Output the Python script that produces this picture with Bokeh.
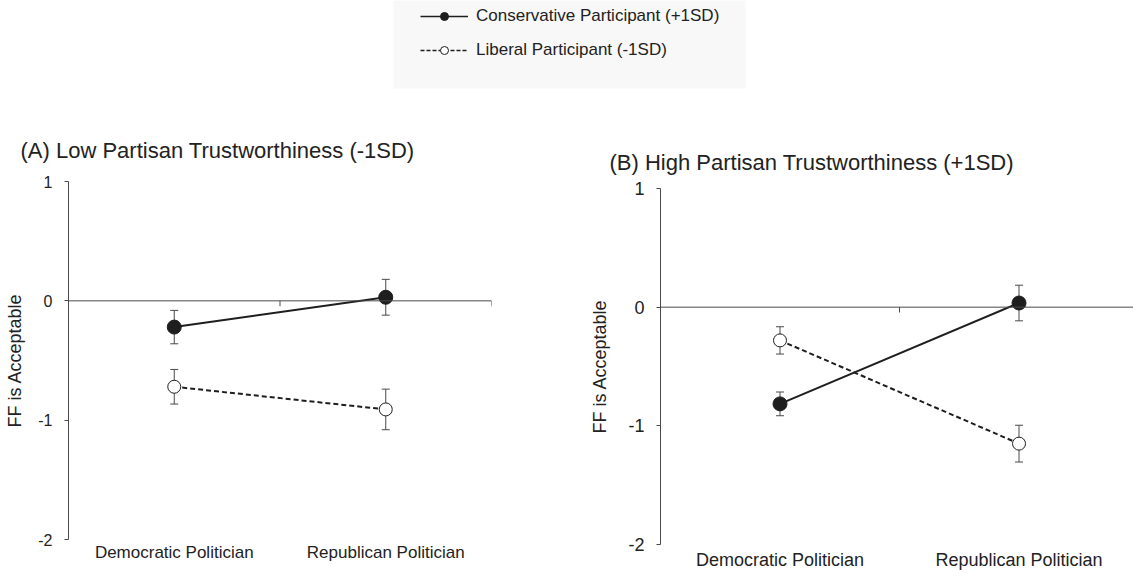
from bokeh.plotting import figure
from bokeh.models import (Range1d, FixedTicker, Span, Whisker, TeeHead, ColumnDataSource,
                          Legend, LegendItem, BoxAnnotation, LinearAxis, Spacer)
from bokeh.layouts import column, row
from bokeh.embed import file_html
from bokeh.resources import INLINE

# ---------------- data ----------------
categories = ["Democratic Politician", "Republican Politician"]
series_names = ["Conservative Participant (+1SD)", "Liberal Participant (-1SD)"]

a_conservative = [-0.22, 0.03]
a_conservative_err = [0.14, 0.15]
a_liberal = [-0.72, -0.91]
a_liberal_err = [0.145, 0.17]

b_conservative = [-0.815, 0.035]
b_conservative_err = [0.10, 0.15]
b_liberal = [-0.28, -1.15]
b_liberal_err = [0.115, 0.155]

y_ticks = [-2, -1, 0, 1]
y_tick_labels = ["-2", "-1", "0", "1"]
titles = ["(A) Low Partisan Trustworthiness (-1SD)", "(B) High Partisan Trustworthiness (+1SD)"]
y_label = "FF is Acceptable"

FONT = "Liberation Sans"
TXT = "#222222"
AX = "#4a4a4a"
INK = "#1e1e1e"

xs = [i + 0.5 for i in range(len(categories))]
bounds = [i + 1 for i in range(len(categories))]


def panel(title, cons, cons_err, lib, lib_err, width, height, x_end,
          b_left, b_right, b_top, b_bottom, tick_fs, cat_fs, title_standoff,
          title_offset, lab_standoff, tick_len, cat_standoff):
    p = figure(width=width, height=height, output_backend="svg", toolbar_location=None,
               x_range=Range1d(0, x_end), y_range=Range1d(-2, 1),
               min_border_left=b_left, min_border_right=b_right,
               min_border_top=b_top, min_border_bottom=b_bottom,
               x_axis_location=None, y_axis_location=None)
    p.outline_line_color = None
    p.xgrid.visible = False
    p.ygrid.visible = False

    p.title.text = title
    p.title.text_font = FONT
    p.title.text_font_size = "22px"
    p.title.text_font_style = "normal"
    p.title.text_color = TXT
    p.title.align = "left"
    p.title.offset = title_offset
    p.title.standoff = title_standoff

    yax = LinearAxis(ticker=FixedTicker(ticks=y_ticks))
    yax.major_label_overrides = {t: s for t, s in zip(y_ticks, y_tick_labels)}
    yax.axis_line_color = AX
    yax.major_tick_line_color = AX
    yax.major_tick_out = 4
    yax.major_tick_in = 0
    yax.minor_tick_line_color = None
    yax.major_label_text_font = FONT
    yax.major_label_text_font_size = tick_fs
    yax.major_label_text_color = TXT
    yax.major_label_standoff = 12
    yax.axis_label = y_label
    yax.axis_label_text_font = FONT
    yax.axis_label_text_font_size = "18px"
    yax.axis_label_text_font_style = "normal"
    yax.axis_label_text_color = TXT
    yax.axis_label_standoff = lab_standoff
    p.add_layout(yax, "left")

    xax = LinearAxis(ticker=FixedTicker(ticks=xs))
    xax.major_label_overrides = {x: c for x, c in zip(xs, categories)}
    xax.axis_line_color = None
    xax.major_tick_line_color = None
    xax.major_tick_out = 0
    xax.major_tick_in = 0
    xax.minor_tick_line_color = None
    xax.major_label_text_font = FONT
    xax.major_label_text_font_size = cat_fs
    xax.major_label_text_color = TXT
    xax.major_label_standoff = cat_standoff
    p.add_layout(xax, "below")

    # zero line with category boundary ticks
    p.add_layout(Span(location=0, dimension="width", line_color=AX, line_width=1))
    p.segment(x0=bounds, x1=bounds, y0=[0] * len(bounds), y1=[-tick_len] * len(bounds),
              line_color=AX, line_width=1)

    # error bars
    for vals, errs in ((cons, cons_err), (lib, lib_err)):
        src = ColumnDataSource(dict(x=xs,
                                    upper=[v + e for v, e in zip(vals, errs)],
                                    lower=[v - e for v, e in zip(vals, errs)]))
        w = Whisker(base="x", upper="upper", lower="lower", source=src, dimension="height",
                    line_color=AX, line_width=1,
                    upper_head=TeeHead(size=8, line_color=AX, line_width=1),
                    lower_head=TeeHead(size=8, line_color=AX, line_width=1))
        p.add_layout(w)

    p.line(xs, cons, line_color=INK, line_width=2)
    p.line(xs, lib, line_color=INK, line_width=2, line_dash="5 3")
    p.scatter(xs, cons, size=14, marker="circle", fill_color=INK, line_color=INK, line_width=1)
    p.scatter(xs, lib, size=13, marker="circle", fill_color="white", line_color=INK, line_width=1)
    return p


pa = panel(titles[0], a_conservative, a_conservative_err, a_liberal, a_liberal_err,
           width=560, height=472, x_end=2,
           b_left=68, b_right=69, b_top=81, b_bottom=33,
           tick_fs="16px", cat_fs="17px", title_standoff=37, title_offset=-48,
           lab_standoff=10, tick_len=0.045, cat_standoff=3)

pb = panel(titles[1], b_conservative, b_conservative_err, b_liberal, b_liberal_err,
           width=573, height=465, x_end=1.979,
           b_left=100, b_right=0, b_top=81, b_bottom=28,
           tick_fs="18px", cat_fs="18px", title_standoff=27, title_offset=-51,
           lab_standoff=15, tick_len=0.045, cat_standoff=5)

# ---------------- legend strip ----------------
top = figure(width=1133, height=100, output_backend="svg", toolbar_location=None,
             x_range=Range1d(0, 1133), y_range=Range1d(20, 120),
             min_border_left=0, min_border_right=0, min_border_top=0, min_border_bottom=0,
             x_axis_location=None, y_axis_location=None)
top.outline_line_color = None
top.xgrid.visible = False
top.ygrid.visible = False
top.add_layout(BoxAnnotation(left=393, right=745, bottom=32, top=120,
                             fill_color="#f8f8f8", fill_alpha=1, line_alpha=0))

# legend carriers (the series themselves, drawn out of this strip's view)
l1 = top.line(xs, a_conservative, line_color=INK, line_width=1.5)
s1 = top.scatter(xs, a_conservative, marker="circle", fill_color=INK, line_color=INK)
l2 = top.line(xs, a_liberal, line_color=INK, line_width=1.5, line_dash="4 2")
s2 = top.scatter(xs, a_liberal, marker="circle", fill_color="white", line_color=INK)

leg = Legend(items=[LegendItem(label=series_names[0], renderers=[l1, s1]),
                    LegendItem(label=series_names[1], renderers=[l2, s2])],
             location=(420, 40), padding=0, spacing=14, margin=0,
             glyph_width=48, glyph_height=20, label_height=20, label_standoff=8,
             label_text_font=FONT, label_text_font_size="17px", label_text_color=TXT,
             background_fill_alpha=0, border_line_alpha=0)
top.add_layout(leg)

layout = column(top, row(pa, column(Spacer(width=573, height=7), pb, spacing=0), spacing=0),
                spacing=0)

open("out.html", "w").write(file_html(layout, INLINE))
